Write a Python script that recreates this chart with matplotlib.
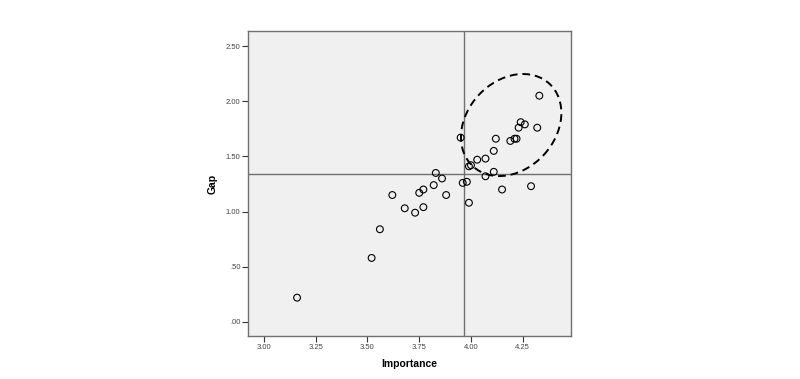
import numpy as np
import matplotlib
matplotlib.use("Agg")
import matplotlib.pyplot as plt
from matplotlib.patches import Ellipse
from matplotlib.transforms import ScaledTranslation

plt.rcParams['font.family'] = ['Liberation Sans', 'DejaVu Sans']

# values
importance = [3.16, 3.52, 3.56, 3.62, 3.68, 3.73, 3.75, 3.77, 3.77, 3.82,
              3.83, 3.86, 3.88, 3.96, 3.98, 3.99, 4.07, 4.11, 4.15, 4.29,
              3.99, 4.33, 4.24, 4.26, 4.23, 4.32, 4.12, 4.19, 4.21, 4.22,
              3.95, 4.11, 4.03, 4.07, 4.00]
gap = [0.22, 0.58, 0.84, 1.15, 1.03, 0.99, 1.17, 1.20, 1.04, 1.24,
       1.35, 1.30, 1.15, 1.26, 1.27, 1.08, 1.32, 1.36, 1.20, 1.23,
       1.41, 2.05, 1.81, 1.79, 1.76, 1.76, 1.66, 1.64, 1.66, 1.66,
       1.67, 1.55, 1.47, 1.48, 1.42]

x_ticks = [3.00, 3.25, 3.50, 3.75, 4.00, 4.25]
x_labels = ["3.00", "3.25", "3.50", "3.75", "4.00", "4.25"]
y_ticks = [0.0, 0.5, 1.0, 1.5, 2.0, 2.5]
y_labels = [".00", ".50", "1.00", "1.50", "2.00", "2.50"]

mean_importance = 3.966
mean_gap = 1.34

fig = plt.figure(figsize=(8, 3.79), dpi=100)
ax = fig.add_axes([0.31, 0.1135, 0.40375, 0.8047])
ax.set_facecolor("#f0f0f0")

ax.axvline(mean_importance, color="#707070", lw=1, zorder=1)
ax.axhline(mean_gap, color="#707070", lw=1, zorder=1)

ax.scatter(importance, gap, s=24, facecolors="none", edgecolors="black",
           linewidths=0.8, zorder=3)

# dashed ellipse around the high-importance / high-gap group (size in inches)
ell = Ellipse((0, 0), 1.126, 0.884, angle=47, fill=False, ls=(0, (4, 2.5)),
              lw=1.4, color="black",
              transform=fig.dpi_scale_trans + ScaledTranslation(4.194, 1.784, ax.transData))
ax.add_patch(ell)

ax.set_xlim(2.923, 4.483)
ax.set_ylim(-0.127, 2.636)
ax.set_xticks(x_ticks)
ax.set_xticklabels(x_labels)
ax.set_yticks(y_ticks)
ax.set_yticklabels(y_labels)
ax.tick_params(labelsize=5.5, colors="#333333", labelcolor="#444444",
               length=4, width=0.8, direction="out", pad=1.5)

for s in ax.spines.values():
    s.set_color("#707070")
    s.set_linewidth(1)

ax.set_xlabel("Importance", fontsize=7.5, fontweight="bold", labelpad=6)
ax.set_ylabel("Gap", fontsize=7.5, fontweight="bold", labelpad=6)

fig.savefig("out.png", dpi=100)
